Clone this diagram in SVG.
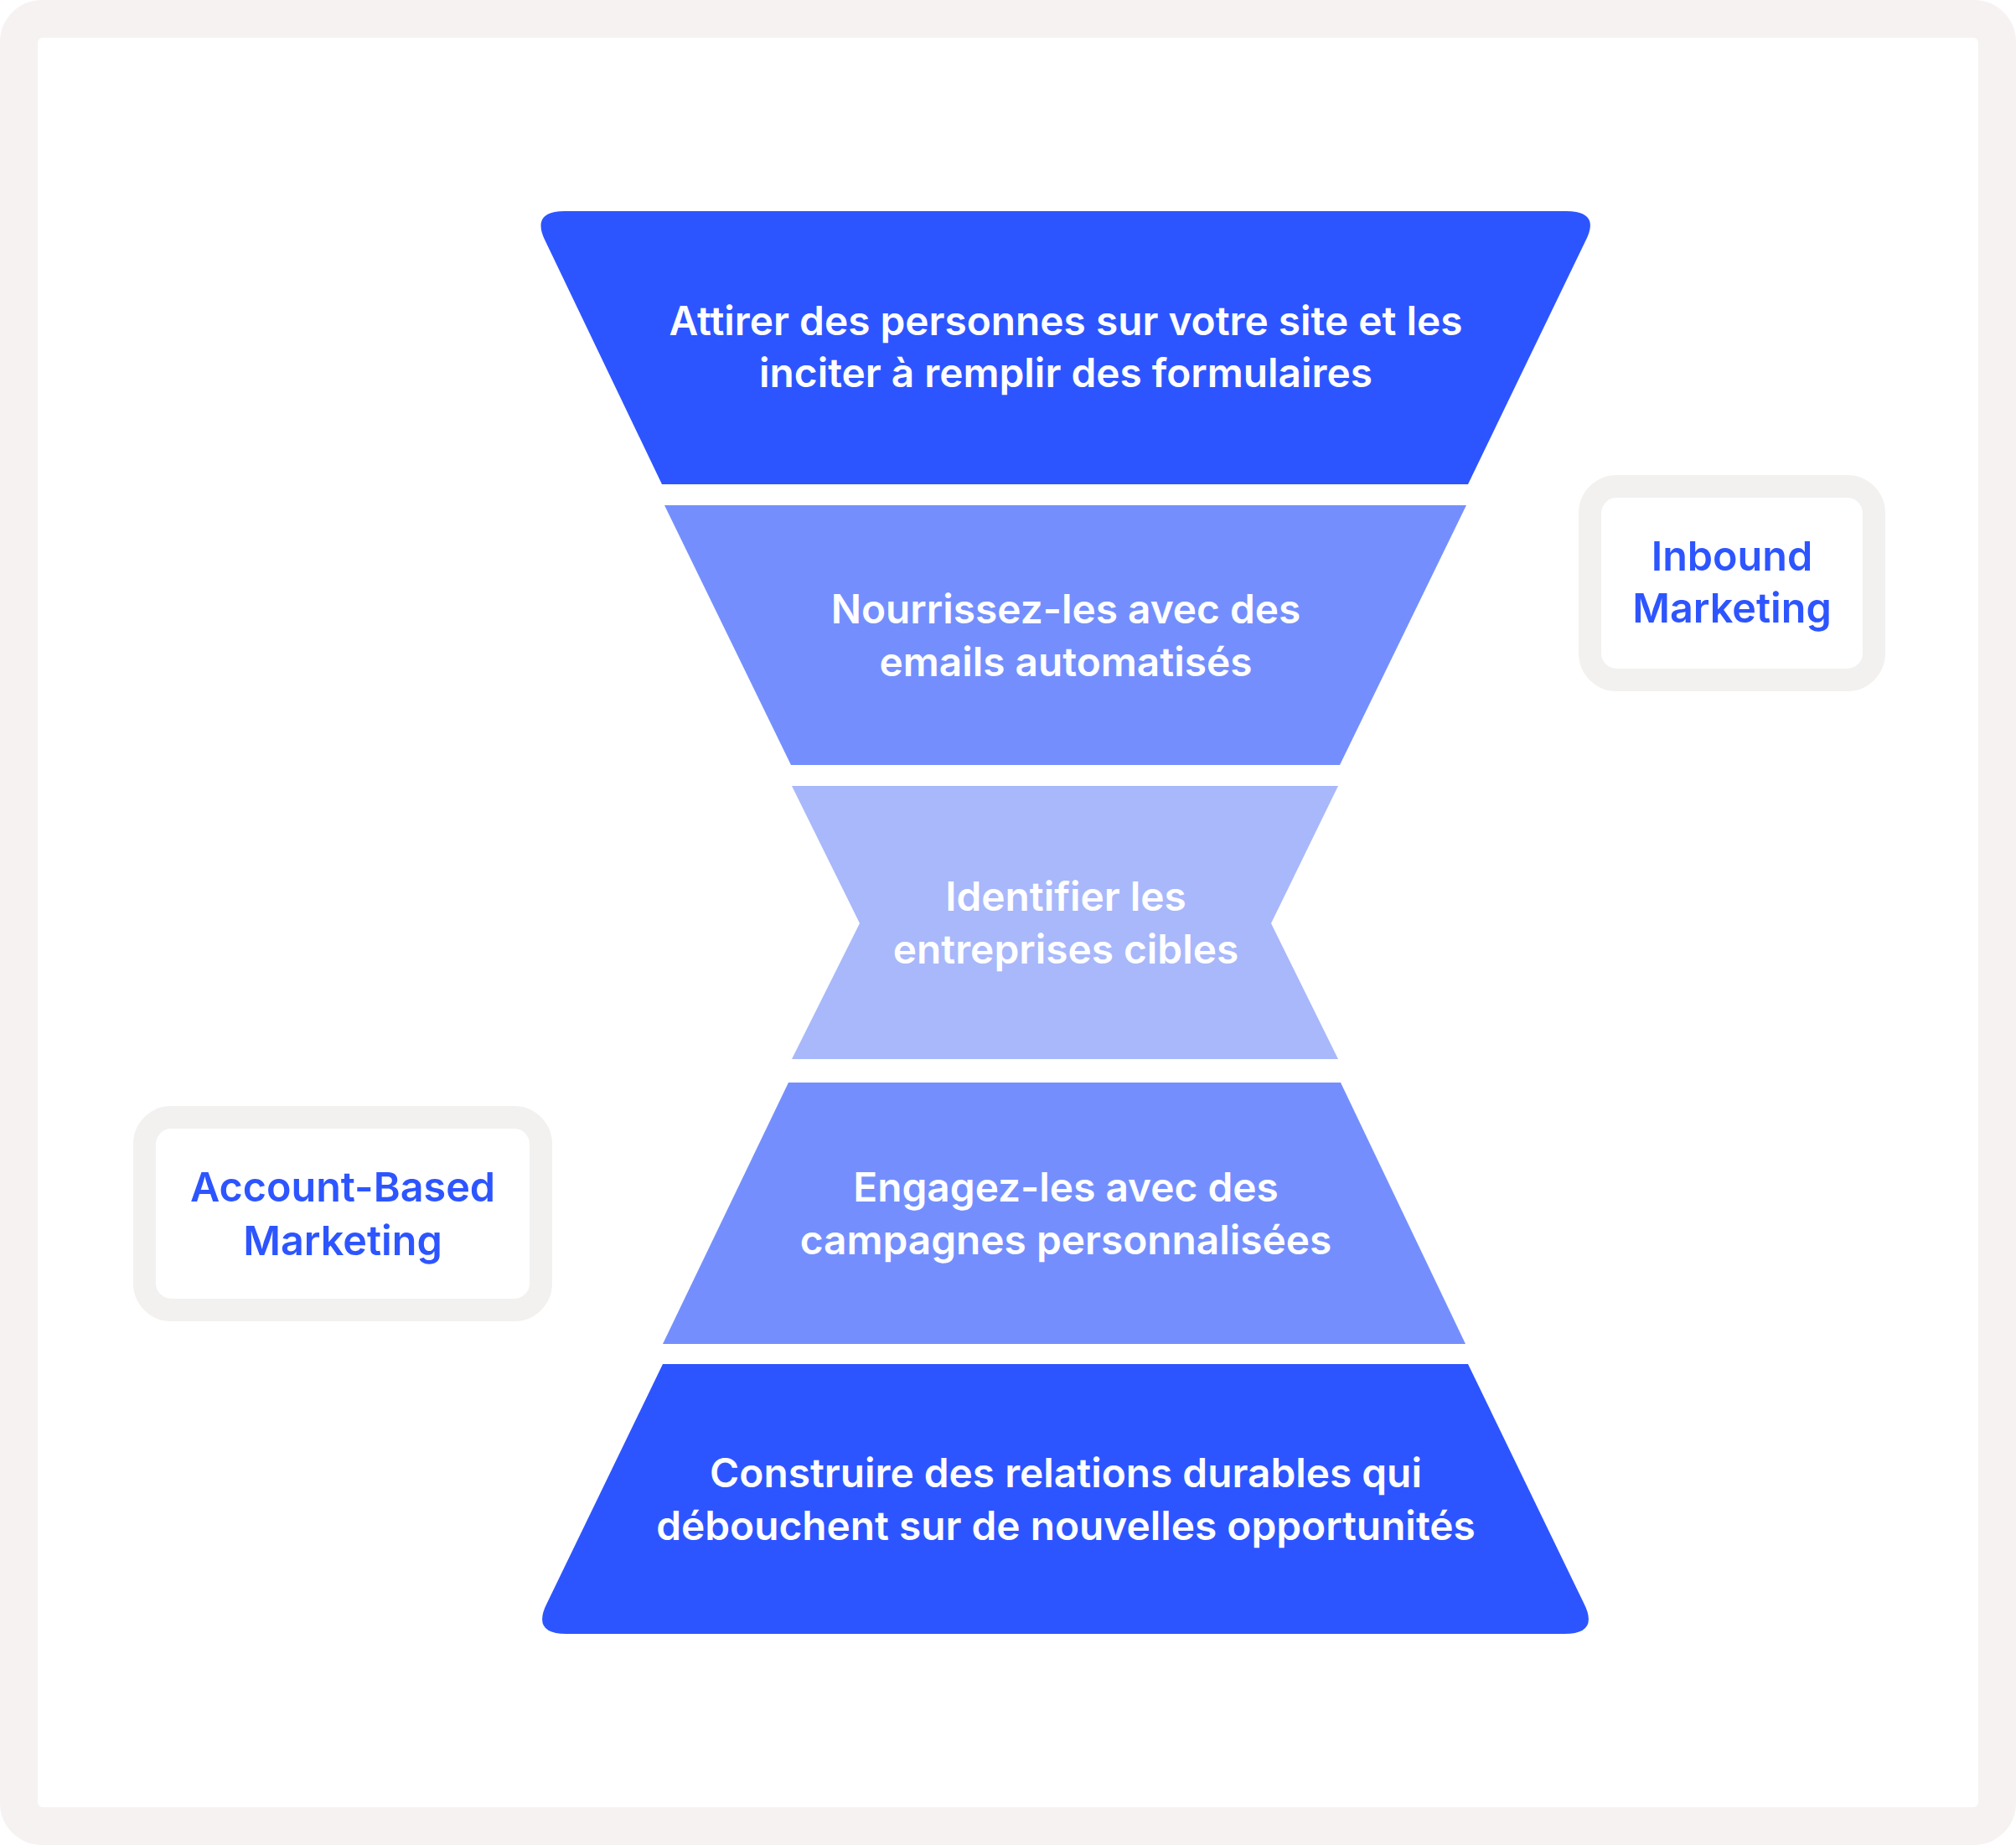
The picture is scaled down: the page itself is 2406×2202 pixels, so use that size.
<svg xmlns="http://www.w3.org/2000/svg" width="2406" height="2202" viewBox="0 0 2406 2202">
<defs>
<style>
.frame{fill:#F5F2F1}
.dark{fill:#2D55FF}
.mid{fill:#748FFD}
.light{fill:#A8B8FA}
.lbl{font-family:Inter,"Liberation Sans",sans-serif;font-weight:600;font-size:47.8px;fill:#FFFFFF;text-anchor:middle}
.side{fill:#FFFFFF;stroke:#F2F1EF;stroke-width:27}
.sidetxt{font-family:Inter,"Liberation Sans",sans-serif;font-weight:600;font-size:48.5px;fill:#2D55FF;text-anchor:middle}
</style>
</defs>
<rect x="0" y="0" width="2406" height="2202" rx="50" ry="50" class="frame"/>
<rect x="45" y="45" width="2316" height="2112" rx="6" ry="6" fill="#FFFFFF"/>
<g id="stage1">
<path class="dark" d="M674,252 L1869,252 Q1911,252 1892,288 L1752,578 L790,578 L651,288 Q633,252 674,252 Z"/>
<text class="lbl" x="1272" y="400">Attirer des personnes sur votre site et les</text>
<text class="lbl" x="1272" y="462">inciter à remplir des formulaires</text>
</g>
<g id="stage2">
<path class="mid" d="M793,603 L1750,603 L1599,913 L944,913 Z"/>
<text class="lbl" x="1272" y="744">Nourrissez-les avec des</text>
<text class="lbl" x="1272" y="807">emails automatisés</text>
</g>
<g id="stage3">
<path class="light" d="M945,938 L1597,938 L1517,1102 L1597,1264 L945,1264 L1026,1102 Z"/>
<text class="lbl" x="1272" y="1087">Identifier les</text>
<text class="lbl" x="1272" y="1150">entreprises cibles</text>
</g>
<g id="stage4">
<path class="mid" d="M941,1292 L1600,1292 L1749,1604 L791,1604 Z"/>
<text class="lbl" x="1272" y="1434">Engagez-les avec des</text>
<text class="lbl" x="1272" y="1497">campagnes personnalisées</text>
</g>
<g id="stage5">
<path class="dark" d="M791,1628 L1752,1628 L1890,1913 Q1909,1950 1867,1950 L676,1950 Q634,1950 653,1913 Z"/>
<text class="lbl" x="1272" y="1775">Construire des relations durables qui</text>
<text class="lbl" x="1272" y="1838">débouchent sur de nouvelles opportunités</text>
</g>
<g id="inbound">
<rect class="side" x="1897.5" y="580.5" width="339" height="231" rx="32" ry="32"/>
<text class="sidetxt" x="2067" y="681">Inbound</text>
<text class="sidetxt" x="2067" y="743">Marketing</text>
</g>
<g id="abm">
<rect class="side" x="172.5" y="1333.5" width="473" height="230" rx="32" ry="32"/>
<text class="sidetxt" x="409" y="1434">Account-Based</text>
<text class="sidetxt" x="409" y="1498">Marketing</text>
</g>
<g id="connectors"></g>
</svg>
